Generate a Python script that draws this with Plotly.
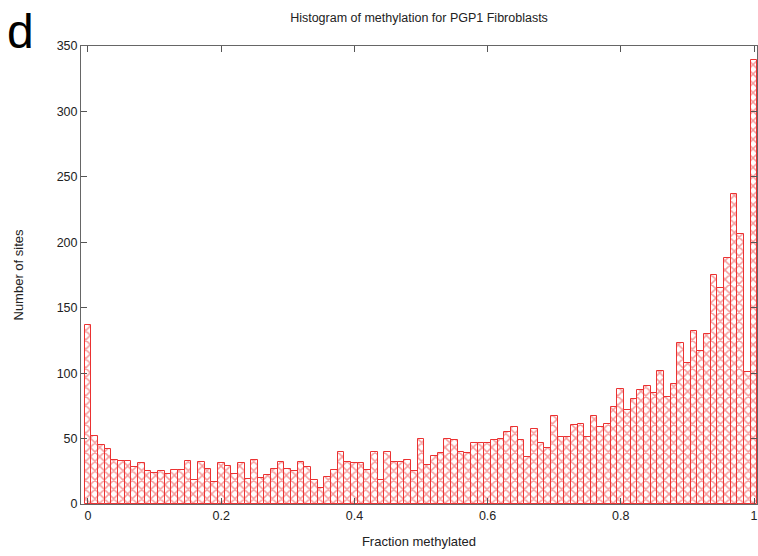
import plotly.graph_objects as go

# Bin centres (fraction methylated) and counts
bin_centers = [round(i * 0.01, 2) for i in range(101)]
counts = [
    137, 52, 45, 42, 34, 33, 33, 28, 31, 25,
    24, 25, 23, 26, 26, 33, 18, 32, 27, 17,
    31, 29, 23, 31, 19, 34, 20, 22, 27, 32,
    27, 25, 32, 28, 18, 12, 21, 26, 40, 32,
    31, 31, 26, 40, 18, 40, 32, 32, 34, 25,
    50, 30, 37, 39, 50, 49, 40, 39, 47, 47,
    47, 49, 50, 55, 59, 49, 36, 57, 47, 43,
    67, 51, 51, 60, 61, 51, 67, 59, 61, 74,
    88, 72, 80, 87, 90, 85, 102, 82, 92, 123,
    108, 132, 117, 130, 175, 165, 188, 237, 206, 101,
    339,
]
x_ticks = [0, 0.2, 0.4, 0.6, 0.8, 1]
x_ticklabels = ["0", "0.2", "0.4", "0.6", "0.8", "1"]
y_ticks = [0, 50, 100, 150, 200, 250, 300, 350]

red = "rgb(235,50,50)"

fig = go.Figure()
fig.add_trace(go.Bar(
    x=bin_centers,
    y=counts,
    width=0.01,
    marker=dict(
        color="white",
        line=dict(color=red, width=1),
        pattern=dict(shape="x", fgcolor="rgb(235,60,60)", bgcolor="white",
                     size=6.6, solidity=0.4),
    ),
    showlegend=False,
))

font = "Liberation Sans, Arial, sans-serif"
fig.update_layout(
    width=758, height=556,
    margin=dict(l=81, r=1, t=46, b=52),
    paper_bgcolor="white", plot_bgcolor="white",
    bargap=0,
    font=dict(family=font, size=12, color="#222"),
    title=dict(text="Histogram of methylation for PGP1 Fibroblasts",
               x=(419 / 758), xanchor="center", y=1 - 18 / 556, yanchor="middle",
               font=dict(size=12.5, color="#222")),
    xaxis=dict(range=[-0.0105, 1.0045], tickvals=x_ticks, ticktext=x_ticklabels,
               ticks="inside", ticklen=6, tickcolor="#555", mirror="ticks",
               showline=True, linecolor="#666", linewidth=1, showgrid=False,
               zeroline=False, tickfont=dict(size=12.5),
               title=dict(text="Fraction methylated", standoff=14, font=dict(size=13))),
    yaxis=dict(range=[0, 350], tickvals=y_ticks,
               ticks="inside", ticklen=6, tickcolor="#555", mirror="ticks",
               showline=True, linecolor="#666", linewidth=1, showgrid=False,
               zeroline=False, tickfont=dict(size=12.5),
               title=dict(text="Number of sites", standoff=30, font=dict(size=13))),
    annotations=[dict(text="d", xref="paper", yref="paper", x=-0.112, y=1.094,
                      xanchor="left", yanchor="top", showarrow=False,
                      font=dict(size=48, color="black", family=font))],
)

fig.write_html("out.html")
